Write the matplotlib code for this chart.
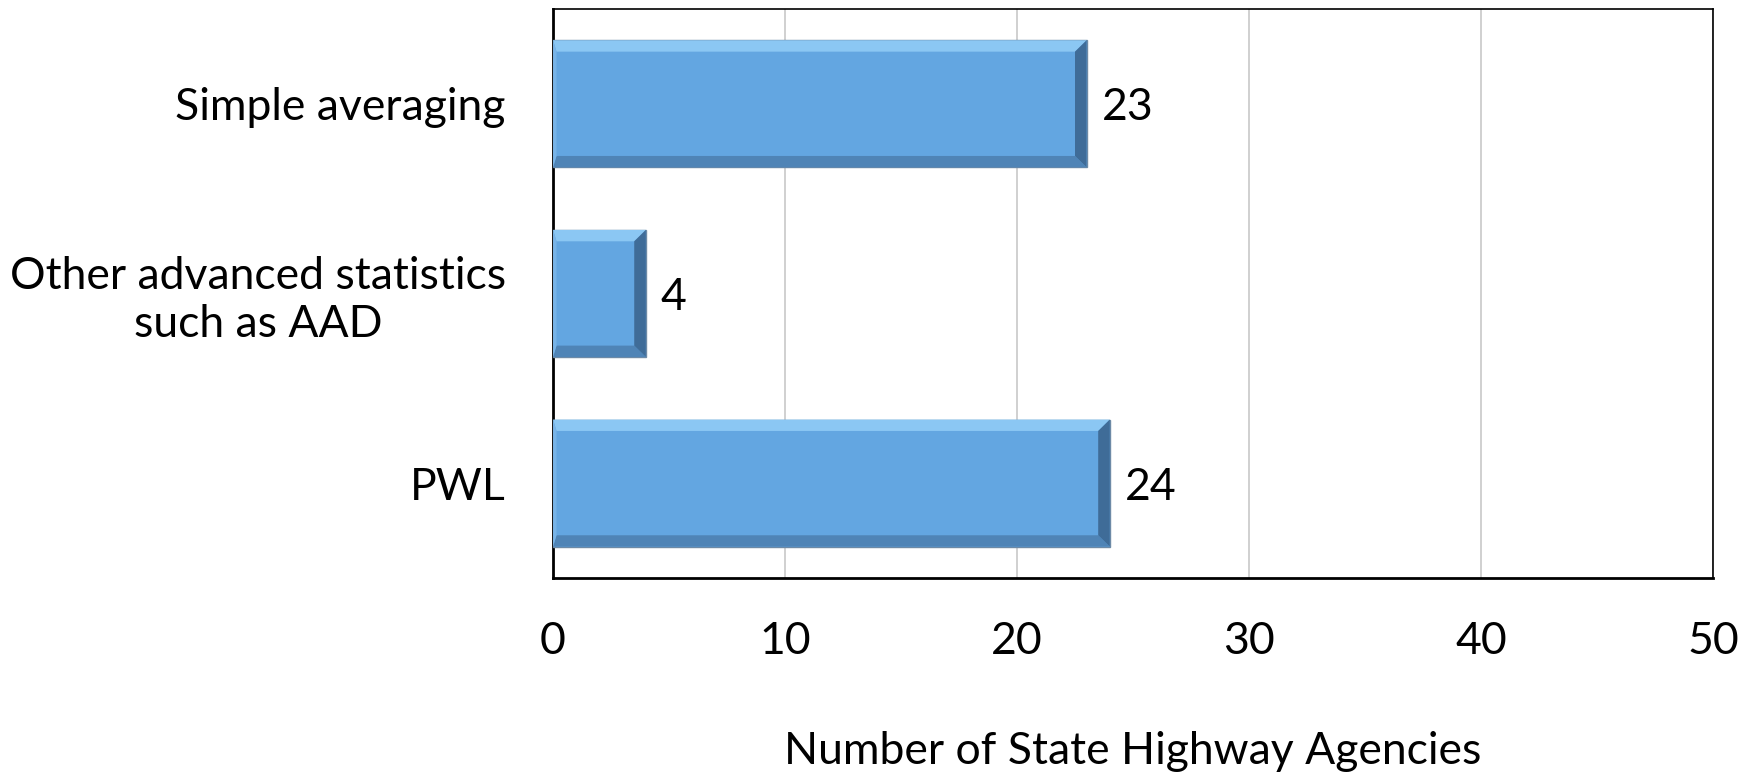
import matplotlib.pyplot as plt
from matplotlib.patches import Polygon

categories = ['Simple averaging', 'Other advanced statistics\nsuch as AAD', 'PWL']
counts = [23, 4, 24]
xticks = [0, 10, 20, 30, 40, 50]
xlabel = 'Number of State Highway Agencies'

plt.rcParams['font.family'] = ['Lato', 'DejaVu Sans']

fig = plt.figure(figsize=(17.54, 7.81), dpi=100)
ax = fig.add_axes([0.3153, 0.26, 0.6613, 0.7285])

ypos = list(range(len(categories)))
bh = 0.67
bars = ax.barh(ypos, counts, height=bh, color='#63A6E1', edgecolor='#6d8aa6',
               linewidth=1.0, zorder=3)

# bevel look, built from each bar's own geometry
bx = 0.5    # horizontal bevel in data units
by = 0.06   # vertical bevel in data units
for b in bars:
    x0, y0 = b.get_x(), b.get_y()
    x1, y1 = x0 + b.get_width(), y0 + b.get_height()
    # y axis is inverted: y0 is the visual top
    faces = [
        ([(x0, y0), (x1, y0), (x1 - bx, y0 + by), (x0 + bx * 0.3, y0 + by)], '#8BC7F3'),
        ([(x0, y1), (x1, y1), (x1 - bx, y1 - by), (x0 + bx * 0.3, y1 - by)], '#4F84B6'),
        ([(x1, y0), (x1, y1), (x1 - bx, y1 - by), (x1 - bx, y0 + by)], '#3F6C98'),
        ([(x0, y0), (x0, y1), (x0 + bx * 0.3, y1 - by), (x0 + bx * 0.3, y0 + by)], '#78B4E8'),
    ]
    for pts, c in faces:
        ax.add_patch(Polygon(pts, closed=True, color=c, zorder=4, lw=0))
    ax.text(x1 + 0.65, y0 + b.get_height() / 2, str(int(b.get_width())),
            va='center_baseline', ha='left', fontsize=32, zorder=5)

ax.set_xlim(0, 50)
ax.set_ylim(len(categories) - 0.5, -0.5)
ax.set_xticks(xticks)
ax.set_xticklabels([str(t) for t in xticks], fontsize=32)
ax.set_yticks(ypos)
ax.set_yticklabels(categories, fontsize=32, multialignment='center')
ax.tick_params(axis='x', length=0, pad=31)
ax.tick_params(axis='y', length=0, pad=34)
ax.grid(axis='x', color='#c8c8c8', linewidth=1.2, zorder=0)
ax.set_axisbelow(True)
for s in ax.spines.values():
    s.set_color('black')
    s.set_linewidth(1.2)
ax.spines['left'].set_linewidth(2)
ax.spines['bottom'].set_linewidth(2)

ax.set_xlabel(xlabel, fontsize=32, labelpad=50)

fig.savefig('out.png', dpi=100)
